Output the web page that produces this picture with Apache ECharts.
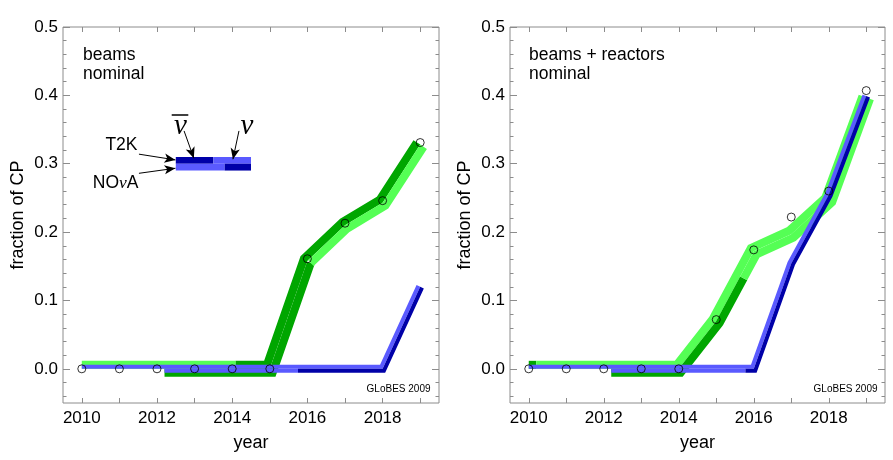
<!DOCTYPE html>
<html>
<head>
<meta charset="utf-8">
<title>fraction of CP</title>
<script src="https://cdn.jsdelivr.net/npm/echarts@6/dist/echarts.min.js"></script>
<style>
  html, body { margin: 0; padding: 0; background: #fff; }
  #chart { width: 893px; height: 460px; }
</style>
</head>
<body>
<div id="chart"></div>
<script>
const years = [2010, 2011, 2012, 2013, 2014, 2015, 2016, 2017, 2018, 2019];
const yearLabels = [2010, 2012, 2014, 2016, 2018];
const cpTicks = [0, 0.1, 0.2, 0.3, 0.4, 0.5];
const cpMinorTicks = [-0.04, -0.02, 0, 0.02, 0.04, 0.06, 0.08, 0.1, 0.12, 0.14, 0.16, 0.18, 0.2,
  0.22, 0.24, 0.26, 0.28, 0.3, 0.32, 0.34, 0.36, 0.38, 0.4, 0.42, 0.44, 0.46, 0.48, 0.5];

// left panel: beams
const beamsGreen = [0, 0, 0, 0, 0, 0, 0.158, 0.21, 0.243, 0.328];
const beamsBlue  = [0, 0, 0, 0, 0, 0, 0, 0, 0, 0.12];
const beamsDots  = [0, 0, 0, 0, 0, 0, 0.161, 0.213, 0.246, 0.331];
// right panel: beams + reactors
const reactGreen = [0, 0, 0, 0, 0, 0.07, 0.172, 0.197, 0.247, 0.397];
const reactBlue  = [0, 0, 0, 0, 0, 0, 0, 0.154, 0.254, 0.399];
const reactDots  = [0, 0, 0, 0, 0, 0.072, 0.174, 0.222, 0.26, 0.407];

// running periods along a band: [from, to, side (1 = T2K above, -1 = NOvA below), shade (0 light, 1 dark)]
const beamsGreenRuns = [[2010, 2014.1, 1, 0], [2014.1, 2019, 1, 1], [2012.2, 2016, -1, 1], [2016, 2019, -1, 0]];
const reactGreenRuns = [[2010, 2010.2, 1, 1], [2010.2, 2019, 1, 0], [2012.2, 2015.65, -1, 1], [2015.65, 2019, -1, 0]];
const blueRuns = [[2010, 2019, 1, 0], [2012.2, 2015.75, -1, 0], [2015.75, 2019, -1, 1]];

// legend bar: [from, to, low, high, shade]
const legendRows = [[2012.5, 2013.5, 0.3, 0.31, 1], [2013.5, 2014.5, 0.3, 0.31, 0],
  [2012.5, 2013.8, 0.29, 0.3, 0], [2013.8, 2014.5, 0.29, 0.3, 1]];
// arrows of the legend: [x0, y0, x1, y1]
const legendArrows = [[2011.52, 0.314, 2012.49, 0.3056], [2011.52, 0.286, 2012.49, 0.2934],
  [2012.72, 0.348, 2012.98, 0.308], [2014.18, 0.348, 2014.02, 0.3066]];

const greens = ['#55ff55', '#00a600'];
const blues = ['#5a5aff', '#0000a8'];
const font = 'Liberation Sans';
const frame = '#8c8c8c';

// shift the centre line sideways (upwards for off > 0), mitered at the joints
function sideLine(pts, off) {
  const n = pts.length;
  const nrm = [];
  for (let i = 0; i < n - 1; i++) {
    const dx = pts[i + 1][0] - pts[i][0], dy = pts[i + 1][1] - pts[i][1];
    const L = Math.hypot(dx, dy);
    nrm.push([dy / L, -dx / L]);
  }
  return pts.map((p, i) => {
    const a = nrm[Math.max(i - 1, 0)], b = nrm[Math.min(i, n - 2)];
    let mx = a[0] + b[0], my = a[1] + b[1];
    const ml = Math.hypot(mx, my);
    mx /= ml; my /= ml;
    const k = off / (mx * a[0] + my * a[1]);
    return [p[0] + mx * k, p[1] + my * k];
  });
}

// piece of a line between two years
function cutLine(line, t0, t1) {
  const at = t => {
    let i = 0;
    while (i < years.length - 2 && t > years[i + 1]) i++;
    const f = (t - years[i]) / (years[i + 1] - years[i]);
    return [line[i][0] + f * (line[i + 1][0] - line[i][0]), line[i][1] + f * (line[i + 1][1] - line[i][1])];
  };
  const pts = [at(t0)];
  years.forEach((y, i) => { if (y > t0 && y < t1) pts.push(line[i]); });
  pts.push(at(t1));
  return pts;
}

function bandSeries(panel, vals, runs, colors, half, z) {
  return {
    type: 'custom', xAxisIndex: panel * 2, yAxisIndex: panel * 4, z: z,
    silent: true, animation: false,
    data: runs, encode: { x: 0, y: 3 },
    renderItem(params, api) {
      const run = runs[params.dataIndex];
      const centre = years.map((y, i) => api.coord([y, vals[i]]));
      const line = sideLine(centre, run[2] * half / 2);
      return {
        type: 'polyline',
        shape: { points: cutLine(line, run[0], run[1]) },
        style: { fill: 'none', stroke: colors[run[3]], lineWidth: half, lineJoin: 'miter', lineCap: 'butt' }
      };
    }
  };
}

function dotSeries(panel, vals, extra) {
  return Object.assign({
    type: 'scatter', xAxisIndex: panel * 2, yAxisIndex: panel * 4, z: 5,
    silent: true, animation: false,
    symbol: 'circle', symbolSize: 8,
    itemStyle: { color: 'rgba(0,0,0,0)', borderColor: '#000', borderWidth: 1 },
    data: years.map((y, i) => [y, vals[i]])
  }, extra || {});
}

function xAxes(grid) {
  const base = {
    gridIndex: grid, type: 'value', min: 2009.5, max: 2019.5,
    axisLine: { show: false, onZero: false }, splitLine: { show: false },
    axisTick: { inside: true, length: 5, customValues: years, lineStyle: { color: frame } }
  };
  return [
    Object.assign({}, base, {
      position: 'bottom',
      axisLabel: { customValues: yearLabels, formatter: v => String(v), fontFamily: font, fontSize: 17, color: '#000', margin: 7 },
      name: 'year', nameLocation: 'middle', nameGap: 31,
      nameTextStyle: { fontFamily: font, fontSize: 18, color: '#000' }
    }),
    Object.assign({}, base, { position: 'top', axisLabel: { show: false } })
  ];
}

function yAxes(grid) {
  const base = {
    gridIndex: grid, type: 'value', min: -0.05, max: 0.5,
    axisLine: { show: false, onZero: false }, splitLine: { show: false }
  };
  const tick = (vals, len) => ({ inside: true, length: len, customValues: vals, lineStyle: { color: frame } });
  return [
    Object.assign({}, base, {
      position: 'left', axisTick: tick(cpTicks, 7),
      axisLabel: { customValues: cpTicks, formatter: v => v.toFixed(1), fontFamily: font, fontSize: 17, color: '#000', margin: 5 },
      name: 'fraction of CP', nameLocation: 'middle', nameGap: 36, nameRotate: 90,
      nameTextStyle: { fontFamily: font, fontSize: 18, color: '#000' }
    }),
    Object.assign({}, base, { position: 'left', axisTick: tick(cpMinorTicks, 3.5), axisLabel: { show: false } }),
    Object.assign({}, base, { position: 'right', axisTick: tick(cpTicks, 7), axisLabel: { show: false } }),
    Object.assign({}, base, { position: 'right', axisTick: tick(cpMinorTicks, 3.5), axisLabel: { show: false } })
  ];
}

const txt = (x, y, text, size, align, extra) => ({
  type: 'text', x: x, y: y, silent: true,
  style: Object.assign({ text: text, fontFamily: font, fontSize: size, fill: '#000', align: align || 'left', verticalAlign: 'middle' }, extra || {})
});
const nu = (x, y) => txt(x, y, 'ν', 29, 'center', { fontFamily: 'Liberation Serif', fontStyle: 'italic' });

const chart = echarts.init(document.getElementById('chart'), null, { renderer: 'canvas' });
chart.setOption({
  backgroundColor: '#fff',
  animation: false,
  grid: [
    { left: 63, top: 27, width: 376, height: 376, show: true, borderColor: frame, borderWidth: 1, backgroundColor: 'transparent' },
    { left: 510, top: 27, width: 375, height: 376, show: true, borderColor: frame, borderWidth: 1, backgroundColor: 'transparent' }
  ],
  xAxis: xAxes(0).concat(xAxes(1)),
  yAxis: yAxes(0).concat(yAxes(1)),
  series: [
    bandSeries(0, beamsGreen, beamsGreenRuns, greens, 8, 2),
    bandSeries(0, beamsBlue, blueRuns, blues, 4, 3),
    {
      type: 'custom', xAxisIndex: 0, yAxisIndex: 0, z: 3, silent: true, animation: false,
      data: legendRows, encode: { x: 0, y: 2 },
      renderItem(params, api) {
        const r = legendRows[params.dataIndex];
        const p0 = api.coord([r[0], r[3]]), p1 = api.coord([r[1], r[2]]);
        return { type: 'rect', shape: { x: p0[0], y: p0[1], width: p1[0] - p0[0], height: p1[1] - p0[1] }, style: { fill: blues[r[4]] } };
      }
    },
    dotSeries(0, beamsDots, {
      markLine: {
        silent: true, animation: false,
        symbol: ['none', 'arrow'], symbolSize: [7, 11],
        label: { show: false },
        lineStyle: { color: '#000', width: 1, type: 'solid' },
        emphasis: { disabled: true },
        data: legendArrows.map(a => [{ coord: [a[0], a[1]] }, { coord: [a[2], a[3]] }])
      }
    }),
    bandSeries(1, reactGreen, reactGreenRuns, greens, 8, 2),
    bandSeries(1, reactBlue, blueRuns, blues, 4, 3),
    dotSeries(1, reactDots)
  ],
  graphic: [
    txt(83, 55.6, 'beams', 17.5),
    txt(83, 73.9, 'nominal', 17.5),
    txt(430.5, 389.5, 'GLoBES 2009', 10, 'right'),
    txt(137.5, 145.6, 'T2K', 17.5, 'right'),
    txt(138.5, 183.2, 'NO{nu|ν}A', 17.5, 'right', { rich: { nu: { fontFamily: 'Liberation Serif', fontStyle: 'italic', fontSize: 17.5 } } }),
    nu(180.5, 126.5),
    { type: 'line', silent: true, z: 10, shape: { x1: 171.7, y1: 115, x2: 188.3, y2: 115 }, style: { stroke: '#000', lineWidth: 1.5 } },
    nu(247, 126.5),
    txt(529, 55.6, 'beams + reactors', 17.5),
    txt(529, 73.9, 'nominal', 17.5),
    txt(877.5, 389.5, 'GLoBES 2009', 10, 'right')
  ]
});
</script>
</body>
</html>
